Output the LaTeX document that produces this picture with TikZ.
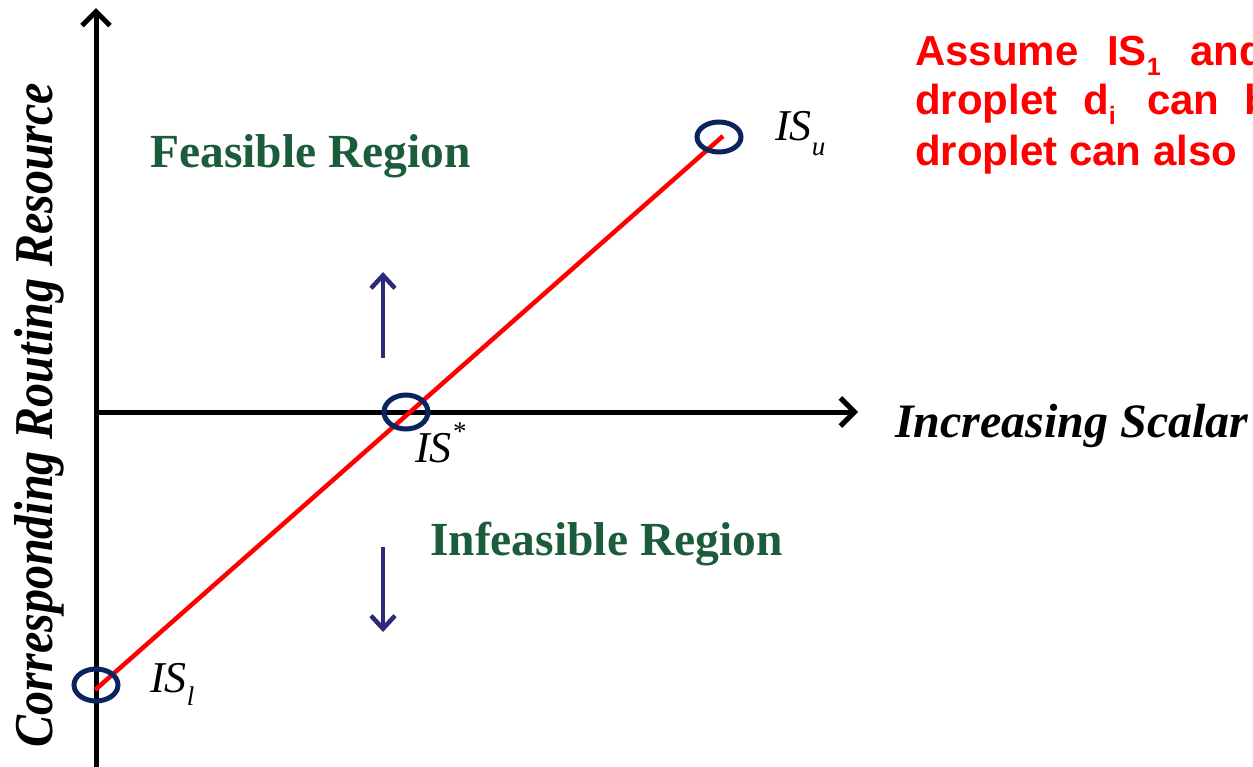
\documentclass[tikz,border=0pt]{standalone}
\usepackage{fontspec}
\setmainfont{Liberation Serif}
\newfontfamily\arialfont{Liberation Sans}
\usetikzlibrary{arrows.meta}
\definecolor{regiongreen}{RGB}{27,92,58}
\definecolor{ellnavy}{RGB}{10,36,96}
\definecolor{arrblue}{RGB}{43,43,122}
\definecolor{linered}{RGB}{255,0,0}
\tikzset{
  axis/.style={line width=5pt, -{Straight Barb[length=14pt,width=28pt]}},
  dirarrow/.style={arrblue, line width=4.5pt, -{Straight Barb[length=13pt,width=24pt]}},
  ringmark/.style={draw=ellnavy, line width=5pt},
  regionlabel/.style={text=regiongreen, font=\fontsize{47.5}{50}\selectfont\bfseries, inner sep=0pt, anchor=base west},
  islabel/.style={font=\fontsize{44}{50}\selectfont\itshape, inner sep=0pt, anchor=base west},
  redword/.style={text=linered, font=\arialfont\fontsize{42}{50}\selectfont\bfseries, inner sep=0pt, anchor=base west},
  axislabel/.style={font=\fontsize{48}{50}\selectfont\bfseries\itshape, inner sep=0pt}
}
\begin{document}
\begin{tikzpicture}[x=1pt,y=-1pt]
\clip (0,0) rectangle (1253,766);
\path[fill=white] (0,0) rectangle (1253,766);
% axes
\coordinate (vbot) at (96,770);
\coordinate (vtop) at (96,8);
\coordinate (hleft) at (94,412);
\coordinate (hright) at (858,412);
\draw[axis] (vbot) -- (vtop);
\draw[axis] (hleft) -- (hright);
% red line
\coordinate (lo) at (95,690);
\coordinate (hi) at (723,136);
\draw[linered, line width=4.5pt] (lo) -- (hi);
% ellipses
\draw[ringmark] (96,685) ellipse [x radius=22, y radius=16];
\draw[ringmark] (719,137) ellipse [x radius=22, y radius=15];
\draw[ringmark] (406,412) ellipse [x radius=22, y radius=17];
% labels
\node[islabel] (isu) at (775,140) {IS\raisebox{-0.35em}{\fontsize{27}{30}\selectfont\itshape u}};
\node[islabel] (iss) at (415,462) {IS\raisebox{0.5em}{\fontsize{27}{30}\selectfont *}};
\node[islabel] (isl) at (150,692) {IS\raisebox{-0.3em}{\fontsize{27}{30}\selectfont\itshape l}};
\node[regionlabel] (feas) at (150,167) {Feasible Region};
\node[regionlabel] (infeas) at (430,555) {Infeasible Region};
% direction arrows
\coordinate (ua) at (383,358);
\coordinate (ub) at (383,272);
\coordinate (da) at (383,547);
\coordinate (db) at (383,632);
\draw[dirarrow] (ua) -- (ub);
\draw[dirarrow] (da) -- (db);
% axis labels
\node[axislabel, anchor=base west] (xlab) at (895,437) {Increasing Scalar};
\node[axislabel, anchor=base, rotate=90] (ylab) at (52,415) {\scalebox{1}[1.14]{Corresponding Routing Resource}};
% red text
\node[redword] (w1) at (915,65) {Assume};
\node[redword] (w2) at (1107,65) {IS\raisebox{-0.25em}{\fontsize{25}{30}\selectfont 1}};
\node[redword] (w3) at (1190,65) {and};
\node[redword] (w4) at (915,114) {droplet};
\node[redword] (w5) at (1083,114) {d\raisebox{-0.25em}{\fontsize{25}{30}\selectfont i}};
\node[redword] (w6) at (1147,114) {can};
\node[redword] (w7) at (1244,114) {be};
\node[redword] (w8) at (915,165) {droplet can also};
\end{tikzpicture}
\end{document}
